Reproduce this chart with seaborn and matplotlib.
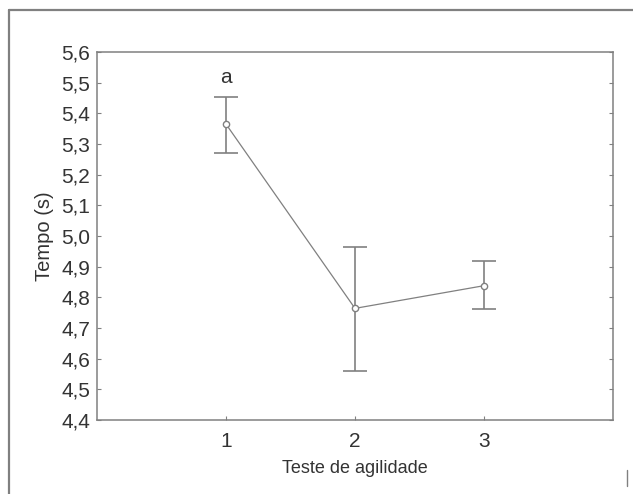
import matplotlib
matplotlib.use("Agg")
import matplotlib.pyplot as plt
from matplotlib.lines import Line2D
import numpy as np
import pandas as pd
import seaborn as sns

teste = [1, 2, 3]
tempo = [5.365, 4.764, 4.838]
erro_sup = [5.453, 4.963, 4.919]
erro_inf = [5.271, 4.559, 4.762]
y_ticks = [4.4, 4.5, 4.6, 4.7, 4.8, 4.9, 5.0, 5.1, 5.2, 5.3, 5.4, 5.5, 5.6]

df = pd.DataFrame({'teste': teste, 'tempo': tempo,
                   'sup': erro_sup, 'inf': erro_inf})

sns.set_style("white")
plt.rcParams['font.family'] = ['Liberation Sans', 'DejaVu Sans']
gray = '#808080'
txt = '#333333'

fig = plt.figure(figsize=(6.33, 4.94), dpi=100)
ax = fig.add_axes([0.1532, 0.1498, 0.8152, 0.7449])

sns.lineplot(data=df, x='teste', y='tempo', ax=ax, color=gray, lw=0.9,
             marker='o', markersize=4.5, markerfacecolor='white',
             markeredgecolor=gray, markeredgewidth=1.0, zorder=3)
ax.errorbar(df['teste'], df['tempo'],
            yerr=[df['tempo'] - df['inf'], df['sup'] - df['tempo']],
            fmt='none', ecolor=gray, elinewidth=1.2, capsize=8.5,
            capthick=1.2, zorder=2)

ax.text(1, 5.485, 'a', ha='center', va='bottom', fontsize=15, color=txt)

ax.set_xlim(0, 4)
ax.set_ylim(4.4, 5.6)
ax.set_xticks(teste)
ax.set_yticks(y_ticks)
ax.set_yticklabels([f"{v:.1f}".replace('.', ',') for v in y_ticks])
ax.tick_params(axis='both', direction='in', length=3, width=0.8,
               color=gray, labelsize=15, labelcolor=txt)
ax.tick_params(axis='y', right=True, left=True, pad=5)
ax.tick_params(axis='x', bottom=True, pad=9)
for s in ax.spines.values():
    s.set_color(gray)
    s.set_linewidth(1.1)

ax.set_xlabel('Teste de agilidade', fontsize=13, color=txt, labelpad=6)
ax.set_ylabel('Tempo (s)', fontsize=14.5, color=txt, labelpad=5)

# outer frame of the original figure
fig.add_artist(Line2D([0.0142, 1.0], [0.9798, 0.9798], color=gray, lw=1.6))
fig.add_artist(Line2D([0.0142, 0.0142], [0.0, 0.9798], color=gray, lw=1.6))
fig.add_artist(Line2D([0.9905, 0.9905], [0.016, 0.049], color=gray, lw=1.0))

fig.savefig('out.png', dpi=100)
